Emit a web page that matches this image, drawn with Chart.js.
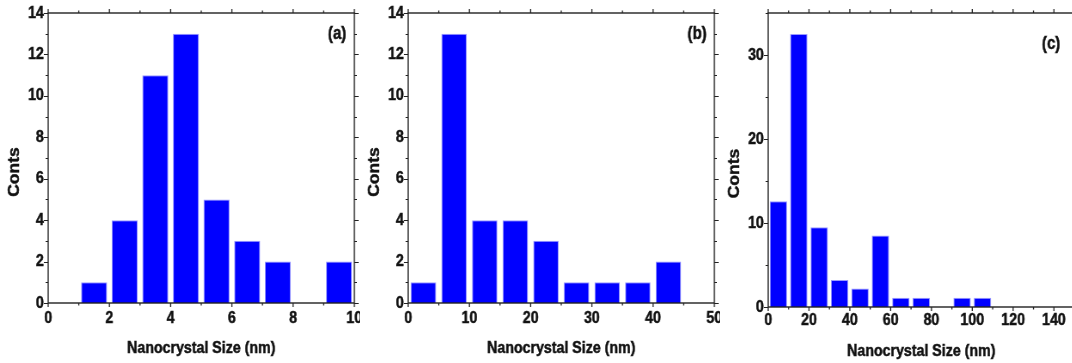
<!DOCTYPE html>
<html>
<head>
<meta charset="utf-8">
<script src="https://cdn.jsdelivr.net/npm/chart.js@4"></script>
<style>
  body { margin: 0; background: #fff; }
  .panel { position: absolute; top: 0; height: 363px; overflow: hidden; }
  /* the original figure is squeezed sideways: draw wide, then scale */
  .panel canvas { transform-origin: 0 0; transform: scaleX(0.86); }
</style>
</head>
<body>
<div class="panel" style="left:0;width:360px"><canvas id="chartA" width="442" height="363"></canvas></div>
<div class="panel" style="left:360px;width:360px"><canvas id="chartB" width="442" height="363"></canvas></div>
<div class="panel" style="left:720px;width:352px"><canvas id="chartC" width="442" height="363"></canvas></div>
<script>
// (a) bins of 1 nm
const sizesA = [1.5, 2.5, 3.5, 4.5, 5.5, 6.5, 7.5, 8.5, 9.5];
const countsA = [1, 4, 11, 13, 5, 3, 2, 0, 2];
// (b) bins of 5 nm
const sizesB = [2.5, 7.5, 12.5, 17.5, 22.5, 27.5, 32.5, 37.5, 42.5];
const countsB = [1, 13, 4, 4, 3, 1, 1, 1, 2];
// (c) bins of 10 nm
const sizesC = [5, 15, 25, 35, 45, 55, 65, 75, 85, 95, 105];
const countsC = [12.6, 32.5, 9.5, 3.2, 2.2, 8.5, 1.1, 1.1, 0, 1.1, 1.1];

const xTitle = 'Nanocrystal Size (nm)';
const yTitle = 'Conts';

const FONT = '"Liberation Sans", Arial, sans-serif';

function boldText(ctx, text, x, y, size, angle) {
  ctx.save();
  ctx.translate(x, y);
  ctx.rotate(angle || 0);
  ctx.font = 'bold ' + size + 'px ' + FONT;
  ctx.fillStyle = '#111';
  ctx.strokeStyle = '#111';
  ctx.lineWidth = 0.5;
  ctx.textAlign = 'center';
  ctx.textBaseline = 'middle';
  ctx.fillText(text, 0, 0);
  ctx.strokeText(text, 0, 0);
  ctx.restore();
}

// frame, outward ticks, axis titles and panel letter
const framePlugin = {
  id: 'frame',
  afterDraw(chart, args, opts) {
    const { ctx, chartArea: a, scales } = chart;
    const x = scales.x, y = scales.y;
    ctx.save();
    ctx.strokeStyle = '#222';
    ctx.lineWidth = 1.4;
    ctx.strokeRect(a.left, a.top, a.right - a.left, a.bottom - a.top);
    ctx.lineWidth = 1.3;
    for (let v = x.min; v <= x.max + 1e-9; v += opts.xMinor) {
      const px = x.getPixelForValue(v);
      const len = Math.abs(v / opts.xMajor - Math.round(v / opts.xMajor)) < 1e-6 ? 4 : 2.5;
      ctx.beginPath();
      ctx.moveTo(px, a.bottom); ctx.lineTo(px, a.bottom + len);
      ctx.moveTo(px, a.top); ctx.lineTo(px, a.top - len);
      ctx.stroke();
    }
    ctx.lineWidth = 1.2;
    for (let v = y.min; v <= y.max + 1e-9; v += opts.yMinor) {
      const py = Math.round(y.getPixelForValue(v)) + 0.5;
      const len = Math.abs(v / opts.yMajor - Math.round(v / opts.yMajor)) < 1e-6 ? 5 : 3;
      ctx.beginPath();
      ctx.moveTo(a.left, py); ctx.lineTo(a.left - len, py);
      ctx.moveTo(a.right, py); ctx.lineTo(a.right + len, py);
      ctx.stroke();
    }
    ctx.restore();
    boldText(ctx, xTitle, (a.left + a.right) / 2, opts.xTitleY, 16.5);
    boldText(ctx, yTitle, 17.5, opts.yTitleY, 17.5, -Math.PI / 2);
    boldText(ctx, opts.label, opts.labelX, opts.labelY, 17.5);
  }
};

function makeChart(id, sizes, counts, cfg) {
  const zeroPad = (s) => { s.paddingLeft = 0; s.paddingRight = 0; s.paddingTop = 0; s.paddingBottom = 0; };
  const tickFont = { family: FONT, size: 16.5, weight: 'bold' };
  return new Chart(document.getElementById(id), {
    type: 'bar',
    data: {
      datasets: [{
        data: sizes.map((s, i) => ({ x: s, y: counts[i] })),
        backgroundColor: '#0000ff',
        borderColor: '#9a9aff',
        borderWidth: 1,
        barPercentage: 1,
        categoryPercentage: cfg.barFrac
      }]
    },
    options: {
      responsive: false,
      animation: false,
      layout: { padding: { left: 0, top: 13, right: 30, bottom: 0 } },
      plugins: {
        legend: { display: false },
        tooltip: { enabled: false },
        frame: cfg.frame
      },
      scales: {
        x: {
          type: 'linear',
          offset: false,
          min: 0, max: cfg.xMax,
          grid: { display: false, drawTicks: false },
          border: { display: false },
          ticks: {
            stepSize: cfg.xStep,
            includeBounds: false,
            padding: cfg.xTickPad,
            autoSkip: false,
            color: '#111',
            textStrokeColor: '#111',
            textStrokeWidth: 0.5,
            font: tickFont,
            maxRotation: 0
          },
          afterFit: (s) => { s.height = cfg.xHeight; zeroPad(s); }
        },
        y: {
          min: 0, max: cfg.yMax,
          grid: { display: false, drawTicks: false },
          border: { display: false },
          ticks: {
            stepSize: cfg.yStep,
            includeBounds: false,
            padding: 5,
            autoSkip: false,
            color: '#111',
            textStrokeColor: '#111',
            textStrokeWidth: 0.5,
            font: tickFont
          },
          afterFit: (s) => { s.width = 56; zeroPad(s); }
        }
      }
    },
    plugins: [framePlugin]
  });
}

makeChart('chartA', sizesA, countsA, {
  barFrac: 0.85, xMax: 10, xStep: 2, xTickPad: 6, xHeight: 60,
  yMax: 14, yStep: 2,
  frame: { xMinor: 1, xMajor: 2, yMinor: 1, yMajor: 2, xTitleY: 348, yTitleY: 172,
           label: '(a)', labelX: 392, labelY: 34 }
});
makeChart('chartB', sizesB, countsB, {
  barFrac: 0.83, xMax: 50, xStep: 10, xTickPad: 6, xHeight: 60,
  yMax: 14, yStep: 2,
  frame: { xMinor: 5, xMajor: 10, yMinor: 1, yMajor: 2, xTitleY: 348, yTitleY: 172,
           label: '(b)', labelX: 392, labelY: 34 }
});
makeChart('chartC', sizesC, countsC, {
  barFrac: 0.85, xMax: 150, xStep: 20, xTickPad: 4, xHeight: 56,
  yMax: 35, yStep: 10,
  frame: { xMinor: 10, xMajor: 20, yMinor: 5, yMajor: 10, xTitleY: 351.5, yTitleY: 173.5,
           label: '(c)', labelX: 385, labelY: 44 }
});
</script>
</body>
</html>
